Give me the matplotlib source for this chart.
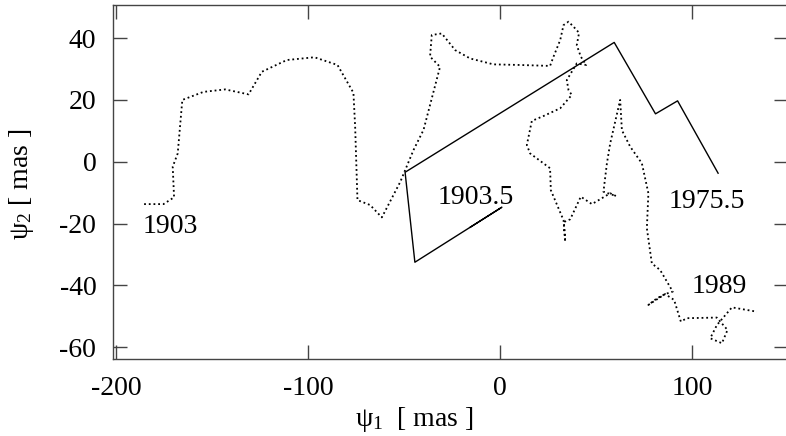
import matplotlib
matplotlib.use("Agg")
import matplotlib.pyplot as plt

plt.rcParams['font.family'] = ['Liberation Serif', 'DejaVu Serif']
plt.rcParams['mathtext.fontset'] = 'custom'
plt.rcParams['mathtext.rm'] = 'Liberation Serif'
plt.rcParams['mathtext.it'] = 'Liberation Serif'
plt.rcParams['axes.unicode_minus'] = False

# dotted track, 1903 -> 1989
track_x = [-185.4, -175.3, -169.8, -170.5, -167.9, -165.5, -154.5, -143.2, -131.0, -124.1,
           -111.1, -96.7, -84.7, -76.4, -75.5, -74.3, -67.7, -61.6, -52.0, -45.1,
           -39.9, -31.3, -36.5, -35.6, -30.4, -23.4, -15.6, -3.5, 10.4, 26.0,
           27.8, 31.3, 33.0, 35.6, 38.2, 41.1, 39.9, 42.0, 44.8, 39.9,
           37.3, 34.7, 35.6, 37.3, 31.3, 22.6, 16.5, 14.8, 13.9, 15.6,
           26.0, 26.4, 33.0, 33.9, 33.2, 36.5, 42.0, 47.8, 57.3, 60.4,
           53.8, 55.6, 57.3, 62.5, 63.4, 67.7, 73.8, 77.2, 76.4, 79.0,
           83.3, 89.9, 85.9, 81.6, 77.2, 85.9, 90.6, 94.1, 97.2, 112.8,
           118.4, 115.5, 109.4, 112.9, 120.7, 133.7]
track_y = [-13.7, -13.7, -11.5, -1.6, 2.7, 20.0, 22.6, 23.4, 21.8, 29.1,
           32.9, 33.8, 31.3, 22.3, 11.3, -12.4, -14.0, -18.0, -6.5, 3.8,
           10.3, 30.7, 34.0, 41.0, 41.5, 36.1, 33.4, 31.5, 31.3, 31.0,
           34.0, 39.4, 44.2, 45.3, 43.7, 41.7, 37.7, 34.0, 31.3, 31.8,
           29.1, 26.4, 23.2, 21.6, 17.3, 14.8, 13.2, 8.1, 5.4, 2.7,
           -2.1, -9.2, -18.9, -25.9, -19.5, -18.6, -11.3, -13.7, -10.2, -11.1,
           -9.7, -0.5, 5.9, 20.0, 10.2, 4.9, -0.5, -10.2, -21.5, -32.9,
           -35.0, -42.0, -42.8, -44.2, -46.3, -42.8, -44.7, -51.7, -50.6, -50.4,
           -54.4, -58.7, -57.1, -52.8, -47.1, -48.5]

# solid path, 1903.5 -> 1975.5
mean_x = [-15.6, 0.9, -44.4, -49.5, 59.4, 80.9, 92.4, 113.5]
mean_y = [-21.2, -14.7, -32.5, -3.4, 38.6, 15.5, 19.7, -3.7]

labels = ['1903', '1903.5', '1975.5', '1989']
label_x = [-186.0, -32.6, 87.7, 99.8]
label_y = [-20.8, -11.5, -13.0, -40.3]

W, H = 786, 436
fig = plt.figure(figsize=(W / 100, H / 100), dpi=100)
ax = fig.add_axes([113 / W, (H - 359) / H, (788 - 113) / W, (359 - 4.7) / H])

ax.plot(track_x, track_y, color='black', lw=1.3, linestyle=(0, (1, 1.6)))
ax.plot(mean_x, mean_y, color='black', lw=1.0)

for t, x, y in zip(labels, label_x, label_y):
    ax.text(x, y, t, fontsize=20, ha='left', va='center')

ax.set_xlim(-201.6, 149.9)
ax.set_ylim(-63.8, 50.8)
ax.set_xticks([-200, -100, 0, 100])
ax.set_yticks([-60, -40, -20, 0, 20, 40])
ax.tick_params(direction='in', length=10, width=1.0, color='#444444',
               top=True, right=True, labelsize=20, pad=12)
for s in ax.spines.values():
    s.set_color('#444444')
    s.set_linewidth(1.0)

fig.text(414 / W, 1 - 419 / H, r'$\psi_1$  [ mas ]', fontsize=20, ha='center', va='center')
fig.text(22 / W, 1 - 184 / H, r'$\psi_2$ [ mas ]', fontsize=20, ha='center', va='center',
         rotation=90)

fig.savefig('out.png', dpi=100)
